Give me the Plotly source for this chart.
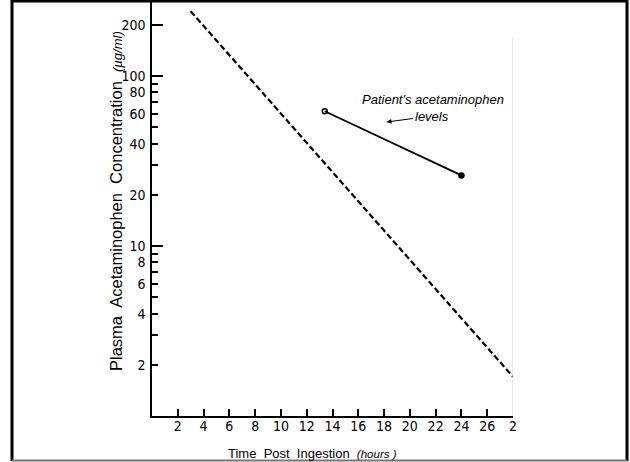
import plotly.graph_objects as go

# ---- data ----
x_ticks = [2, 4, 6, 8, 10, 12, 14, 16, 18, 20, 22, 24, 26, 28]
x_tick_labels = ["2", "4", "6", "8", "10", "12", "14", "16", "18", "20", "22", "24", "26", "2"]
y_ticks = [2, 4, 6, 8, 10, 20, 40, 60, 80, 100, 200]
y_tick_labels = ["2", "4", "6", "8", "10", "20", "40", "60", "80", "100", "200"]
y_minor_ticks = [3, 5, 7, 9, 30, 50, 70, 90]
y_long_ticks = [10, 100, 200]

treatment_hours = [3.0, 28.0]
treatment_conc = [240, 1.7]

patient_hours = [13.4, 24.0]
patient_conc = [62, 26]

# ---- geometry ----
W, H = 630, 462
ML, MR, MT, MB = 152, 117, 2, 46
PW, PH = W - ML - MR, H - MT - MB
YR = [0, 2.435]
XR = [0, 28]

def px_x(p):
    return (p - ML) / PW

def px_y(p):
    return (H - MB - p) / PH

TICKFONT = dict(family="Liberation Sans Narrow, Arial Narrow, DejaVu Sans Condensed, Liberation Sans", size=14, color="black")

fig = go.Figure()

fig.add_trace(go.Scatter(
    x=treatment_hours, y=treatment_conc, mode="lines",
    line=dict(color="black", width=2.2, dash="6px,3px"),
    hoverinfo="skip", showlegend=False,
))
fig.add_trace(go.Scatter(
    x=patient_hours, y=patient_conc, mode="lines+markers",
    line=dict(color="black", width=1.8),
    marker=dict(color="black", size=5, symbol=["circle-open", "circle"], line=dict(color="black", width=1.5)),
    yaxis="y2", hoverinfo="skip", showlegend=False,
))

fig.update_layout(
    width=W, height=H,
    margin=dict(l=ML, r=MR, t=MT, b=MB, pad=0),
    paper_bgcolor="white", plot_bgcolor="white",
    showlegend=False,
    xaxis=dict(
        range=XR, tickmode="array", tickvals=x_ticks, ticktext=x_tick_labels,
        ticks="inside", ticklen=7, tickwidth=1.5, tickcolor="black",
        showline=True, linecolor="black", linewidth=1.5,
        showgrid=False, zeroline=False, tickfont=TICKFONT, ticklabelstandoff=-4,
    ),
    yaxis=dict(
        type="log", range=YR, tickmode="array", tickvals=y_ticks, ticktext=y_tick_labels,
        ticks="inside", ticklen=6, tickwidth=1.5, tickcolor="black",
        minor=dict(tickmode="array", tickvals=y_minor_ticks, ticks="inside", ticklen=6,
                   tickwidth=1.5, tickcolor="black", showgrid=False),
        showline=True, linecolor="black", linewidth=1.5,
        showgrid=False, zeroline=False, tickfont=TICKFONT, ticklabelstandoff=2,
    ),
    yaxis2=dict(
        type="log", range=YR, overlaying="y", side="left", tickmode="array",
        tickvals=y_long_ticks, ticks="inside", ticklen=11, tickwidth=1.5, tickcolor="black",
        showticklabels=False, showgrid=False, zeroline=False, showline=False,
    ),
)

# axis titles
fig.add_annotation(
    xref="paper", yref="paper", x=px_x(116), y=px_y(201), textangle=-90,
    showarrow=False, xanchor="center", yanchor="middle",
    text="Plasma  Acetaminophen  Concentration  <i><span style='font-size:13px'>(µg/ml)</span></i>",
    font=dict(family="Liberation Sans, Arial", size=16.5, color="black"),
)
fig.add_annotation(
    xref="paper", yref="paper", x=px_x(312), y=px_y(453),
    showarrow=False, xanchor="center", yanchor="middle",
    text="Time  Post  Ingestion  <i><span style='font-size:11.5px'>(hours )</span></i>",
    font=dict(family="Liberation Sans, Arial", size=13, color="black"),
)

# in-plot labels
fig.add_annotation(
    x=21.8, y=1.859, yref="y", xref="x", showarrow=False,
    text="<i>Patient's acetaminophen</i>",
    font=dict(family="Liberation Sans, Arial", size=13, color="black"),
)
fig.add_annotation(
    x=18.19, y=1.729, xref="x", yref="y", ax=45, ay=-6,
    showarrow=True, arrowhead=2, arrowsize=1, arrowwidth=1, arrowcolor="black",
    text="<i>levels</i>",
    font=dict(family="Liberation Sans, Arial", size=13, color="black"),
)

# faint right edge line of the plot
fig.add_shape(type="line", xref="x", yref="paper", x0=28, x1=28, y0=0, y1=px_y(37),
              line=dict(color="#d0d0d0", width=1))

# image frame
fig.add_shape(type="line", xref="paper", yref="paper", x0=px_x(12), x1=px_x(12), y0=px_y(461), y1=px_y(0),
              line=dict(color="black", width=3))
fig.add_shape(type="line", xref="paper", yref="paper", x0=px_x(627), x1=px_x(627), y0=px_y(461), y1=px_y(0),
              line=dict(color="black", width=3))
fig.add_shape(type="line", xref="paper", yref="paper", x0=px_x(12), x1=px_x(627), y0=px_y(1), y1=px_y(1),
              line=dict(color="black", width=3))
fig.add_shape(type="line", xref="paper", yref="paper", x0=px_x(12), x1=px_x(627), y0=px_y(460.5), y1=px_y(460.5),
              line=dict(color="#777777", width=2))

fig.write_html("out.html", config={"displayModeBar": False},
               post_script="document.body.style.margin='0';document.body.style.overflow='hidden';")
